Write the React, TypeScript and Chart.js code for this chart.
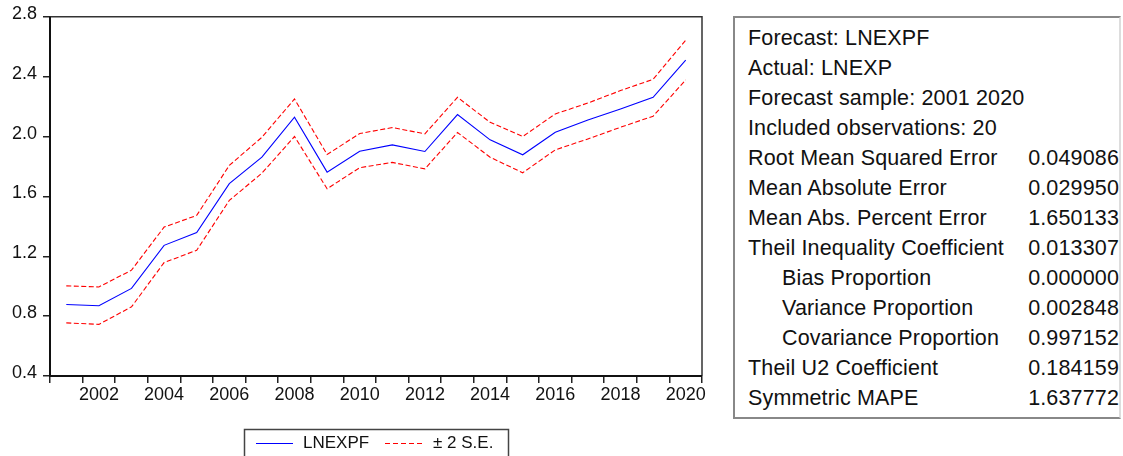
import React, { useEffect, useRef } from 'react';
import { Chart, registerables } from 'chart.js';

Chart.register(...registerables);

// ---- data ----
const years = ['2001', '2002', '2003', '2004', '2005', '2006', '2007', '2008', '2009', '2010',
  '2011', '2012', '2013', '2014', '2015', '2016', '2017', '2018', '2019', '2020'];
const forecast = [0.878, 0.869, 0.985, 1.273, 1.358, 1.685, 1.862, 2.129, 1.762, 1.902,
  1.944, 1.900, 2.147, 1.978, 1.878, 2.029, 2.111, 2.184, 2.262, 2.511];
const upperBand = [1.002, 0.995, 1.107, 1.395, 1.473, 1.807, 1.995, 2.251, 1.880, 2.020,
  2.060, 2.018, 2.262, 2.095, 2.000, 2.151, 2.224, 2.307, 2.382, 2.644];
const lowerBand = [0.755, 0.745, 0.862, 1.158, 1.240, 1.573, 1.755, 2.000, 1.651, 1.792,
  1.827, 1.784, 2.027, 1.862, 1.758, 1.911, 1.984, 2.062, 2.136, 2.378];
const yMin = 0.4;
const yMax = 2.8;
const yStep = 0.4;
const seriesNames = ['LNEXPF', '± 2 S.E.'];

const statLabels = [
  'Forecast: LNEXPF',
  'Actual: LNEXP',
  'Forecast sample: 2001 2020',
  'Included observations: 20',
  'Root Mean Squared Error',
  'Mean Absolute Error',
  'Mean Abs. Percent Error',
  'Theil Inequality Coefficient',
  'Bias Proportion',
  'Variance Proportion',
  'Covariance Proportion',
  'Theil U2 Coefficient',
  'Symmetric MAPE',
];
const statValues = ['', '', '', '', '0.049086', '0.029950', '1.650133', '0.013307',
  '0.000000', '0.002848', '0.997152', '0.184159', '1.637772'];
const statIndented = [false, false, false, false, false, false, false, false, true, true, true, false, false];

const FONT = '"Liberation Sans", Arial, sans-serif';
const BLUE = '#0000ff';
const RED = '#ff0000';

const framePlugin = {
  id: 'frame',
  afterDraw(chart: any) {
    const { ctx, chartArea } = chart;
    const { left, right, top, bottom } = chartArea;
    ctx.save();
    ctx.strokeStyle = '#333';
    ctx.lineWidth = 1.5;
    ctx.beginPath();
    ctx.moveTo(left, top);
    ctx.lineTo(right, top);
    ctx.lineTo(right, bottom);
    ctx.stroke();
    ctx.strokeStyle = '#111';
    ctx.lineWidth = 2;
    ctx.beginPath();
    ctx.moveTo(left, top);
    ctx.lineTo(left, bottom);
    ctx.lineTo(right, bottom);
    ctx.stroke();

    // legend box
    const lx = 244.5, ly = 429.5, lw = 264, lh = 40;
    ctx.strokeStyle = '#444';
    ctx.lineWidth = 1.5;
    ctx.strokeRect(lx, ly, lw, lh);
    const yLine = 443.5;
    ctx.lineWidth = 1;
    ctx.strokeStyle = BLUE;
    ctx.setLineDash([]);
    ctx.beginPath();
    ctx.moveTo(256, yLine);
    ctx.lineTo(293, yLine);
    ctx.stroke();
    ctx.strokeStyle = RED;
    ctx.setLineDash([5, 3]);
    ctx.beginPath();
    ctx.moveTo(385, yLine);
    ctx.lineTo(422, yLine);
    ctx.stroke();
    ctx.setLineDash([]);
    ctx.fillStyle = '#111';
    ctx.font = `17px ${FONT}`;
    ctx.textBaseline = 'middle';
    ctx.textAlign = 'left';
    ctx.fillText(seriesNames[0], 303, 443);
    ctx.fillText(seriesNames[1], 433, 443);
    ctx.restore();
  },
};

function ForecastChart() {
  const ref = useRef<HTMLCanvasElement | null>(null);
  useEffect(() => {
    if (!ref.current) return;
    const chart = new Chart(ref.current, {
      type: 'line',
      data: {
        labels: years,
        datasets: [
          {
            label: seriesNames[0],
            data: forecast,
            borderColor: BLUE,
            borderWidth: 1.1,
            pointRadius: 0,
            tension: 0,
            fill: false,
          },
          {
            label: seriesNames[1],
            data: upperBand,
            borderColor: RED,
            borderWidth: 1.1,
            borderDash: [5, 2.5],
            pointRadius: 0,
            tension: 0,
            fill: false,
          },
          {
            label: seriesNames[1] + ' lower',
            data: lowerBand,
            borderColor: RED,
            borderWidth: 1.1,
            borderDash: [5, 2.5],
            pointRadius: 0,
            tension: 0,
            fill: false,
          },
        ],
      },
      options: {
        responsive: false,
        animation: false,
        devicePixelRatio: 1,
        layout: { padding: { top: 16, right: 18, left: 0, bottom: 0 } },
        plugins: {
          legend: { display: false },
          tooltip: { enabled: false },
        },
        scales: {
          x: {
            type: 'category',
            offset: true,
            border: { display: false },
            grid: {
              offset: true,
              drawOnChartArea: false,
              drawTicks: true,
              tickLength: 7,
              color: '#222',
              lineWidth: 1.5,
            },
            ticks: {
              autoSkip: false,
              maxRotation: 0,
              minRotation: 0,
              padding: 1,
              color: '#111',
              font: { family: FONT, size: 18 },
              callback: (_v: any, i: number) => (i % 2 === 1 ? years[i] : ''),
            },
            afterFit: (scale: any) => { scale.height = 80; },
          },
          y: {
            min: yMin,
            max: yMax,
            border: { display: false },
            grid: {
              drawOnChartArea: false,
              drawTicks: true,
              tickLength: 7,
              color: '#222',
              lineWidth: 1.5,
            },
            ticks: {
              stepSize: yStep,
              padding: 6,
              labelOffset: -3,
              color: '#111',
              font: { family: FONT, size: 18 },
              callback: (v: any) => Number(v).toFixed(1),
            },
            afterFit: (scale: any) => { scale.width = 50; },
          },
        },
      },
      plugins: [framePlugin],
    });
    return () => chart.destroy();
  }, []);
  return <canvas ref={ref} width={720} height={456} style={{ position: 'absolute', left: 0, top: 0, width: 720, height: 456 }} />;
}

function StatsTable() {
  return (
    <div
      style={{
        position: 'absolute',
        left: 733,
        top: 16,
        width: 388,
        height: 403,
        border: '2px solid #888',
        borderRightColor: '#ddd',
        boxSizing: 'border-box',
        fontFamily: FONT,
        fontSize: 21.5,
        letterSpacing: 0.15,
        color: '#111',
        paddingTop: 5,
      }}
    >
      {statLabels.map((lab, i) => (
        <div key={i} style={{ position: 'relative', height: 30, lineHeight: '30px', whiteSpace: 'nowrap' }}>
          <span style={{ position: 'absolute', left: statIndented[i] ? 47 : 13 }}>{lab}</span>
          {statValues[i] ? (
            <span style={{ position: 'absolute', right: 0 }}>{statValues[i]}</span>
          ) : null}
        </div>
      ))}
    </div>
  );
}

export default function App() {
  return (
    <div style={{ position: 'absolute', left: 0, top: 0, width: 1123, height: 456, background: '#fff', overflow: 'hidden' }}>
      <ForecastChart />
      <StatsTable />
    </div>
  );
}
